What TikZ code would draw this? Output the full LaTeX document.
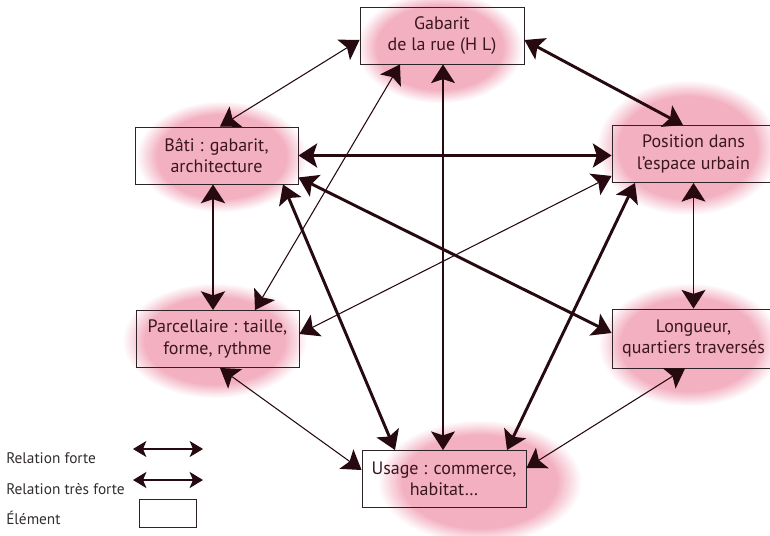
\documentclass[tikz,border=0pt]{standalone}
\usepackage{fontspec}
\setmainfont{PT Sans}
\usetikzlibrary{arrows.meta,calc}
\definecolor{blobpink}{RGB}{243,176,193}
\definecolor{txt}{RGB}{58,22,32}
\definecolor{arr}{RGB}{38,10,16}
\definecolor{boxc}{RGB}{45,35,40}
\definecolor{legtxt}{RGB}{50,45,48}
\newcommand\pinkblob[4]{%
  \foreach \i in {0,...,14}{%
    \pgfmathtruncatemacro\pc{100*\i/14}%
    \pgfmathsetmacro\sc{1-0.24*\i/14}%
    \fill[blobpink!\pc!white] (#1,#2) ellipse [x radius=#3*\sc, y radius=#4*\sc];}}
\tikzset{
  elem/.style={draw=boxc, line width=0.7pt, minimum width=163*0.75pt, minimum height=57*0.75pt,
    inner sep=0pt, align=center, text=txt, font=\fontsize{13.5}{16}\selectfont},
  forte/.style={arr, line width=0.8pt, {Stealth[length=14pt,width=18pt,inset=3pt]}-{Stealth[length=14pt,width=18pt,inset=3pt]}},
  tresforte/.style={arr, line width=2.2pt, {Stealth[length=14pt,width=18pt,inset=3pt]}-{Stealth[length=14pt,width=18pt,inset=3pt]}},
  legend/.style={anchor=west, text=legtxt, inner sep=0pt, font=\fontsize{11.5}{13}\selectfont},
  legarr/.style={{Stealth[length=10pt,width=12pt,inset=2.5pt]}-{Stealth[length=10pt,width=12pt,inset=2.5pt]}}
}
\begin{document}
\begin{tikzpicture}[x=0.75pt,y=-0.75pt]
\useasboundingbox (0,0) rectangle (770,535);
% pink blobs
\pinkblob{440}{48}{84}{56}
\pinkblob{222}{157}{86}{56}
\pinkblob{688}{148}{92}{68}
\pinkblob{215}{341}{93}{58}
\pinkblob{690}{345}{92}{62}
\pinkblob{480}{482}{103}{62}
% elements
\node[elem, minimum width=164*0.75pt] (G) at (442,35.5) {Gabarit\\de la rue (H L)};
\node[elem] (B) at (216.5,155.5) {Bâti : gabarit,\\architecture};
\node[elem] (P) at (693.5,154) {Position dans\\l'espace urbain};
\node[elem] (Pa) at (217.5,339) {Parcellaire : taille,\\forme, rythme};
\node[elem, minimum height=59*0.75pt] (L) at (693.5,338.5) {Longueur,\\quartiers traversés};
\node[elem, minimum width=164*0.75pt] (U) at (444,479) {Usage : commerce,\\habitat\ldots};
% relations
\draw[forte] ($(B.north)+(3.5,0)$) -- ($(G.west)+(0,4.5)$);
\draw[tresforte] ($(G.east)+(0,4.5)$) -- ($(P.north)+(-10.5,0)$);
\draw[forte] ($(Pa.north)+(37.5,0)$) -- ($(G.south)+(-42,0)$);
\draw[forte] ($(G.south)+(1,0)$) -- ($(U.north)+(-1,0)$);
\draw[tresforte] (B.east) -- (B.east -| P.west);
\draw[tresforte] ($(B.south)+(-3.5,0)$) -- ($(Pa.north)+(-4.5,0)$);
\draw[tresforte] ($(B.south)+(66.5,0)$) -- ($(U.north)+(-49,0)$);
\draw[tresforte] ($(B.south east)+(0,-7)$) -- ($(L.west)+(0,-5.5)$);
\draw[forte] ($(Pa.east)+(0,-5)$) -- ($(P.south west)+(0,-7)$);
\draw[tresforte] ($(P.south)+(-58.5,0)$) -- ($(U.north)+(63,0)$);
\draw[forte] (P.south) -- (P.south |- L.north);
\draw[forte] ($(Pa.south)+(2.5,0)$) -- ($(U.west)+(0,-9)$);
\draw[forte] ($(L.south)+(-8.5,0)$) -- ($(U.east)+(0,-11)$);
% legend
\node[legend] (l1) at (6,458) {Relation forte};
\node[legend] (l2) at (6,489) {Relation très forte};
\node[legend] (l3) at (6,518) {Élément};
\coordinate (a1) at (133,449);
\coordinate (b1) at (203,449);
\coordinate (a2) at (133,480);
\coordinate (b2) at (203,480);
\draw[forte, legarr] (a1) -- (b1);
\draw[tresforte, legarr] (a2) -- (b2);
\node[draw=boxc, line width=0.7pt, minimum width=57*0.75pt, minimum height=28*0.75pt, inner sep=0pt] (e) at (168,513) {};
\end{tikzpicture}
\end{document}
